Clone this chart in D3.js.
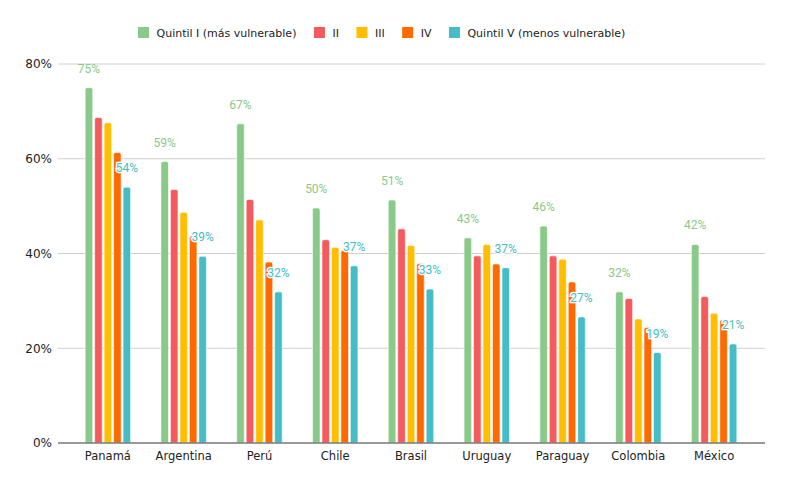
<!DOCTYPE html>
<html><head><meta charset="utf-8">
<script src="https://cdn.jsdelivr.net/npm/d3@7"></script>
<style>body{margin:0;background:#fff}svg{display:block}</style>
</head><body>
<svg id="c" width="790" height="489"></svg>
<script>
const countries = ["Panamá","Argentina","Perú","Chile","Brasil","Uruguay","Paraguay","Colombia","México"];
const seriesNames = ["Quintil I (más vulnerable)","II","III","IV","Quintil V (menos vulnerable)"];
const q1 = [75, 59.4, 67.4, 49.6, 51.3, 43.3, 45.8, 31.9, 41.9];
const q2 = [68.7, 53.5, 51.4, 42.9, 45.2, 39.5, 39.5, 30.5, 30.9];
const q3 = [67.6, 48.7, 47.1, 41.3, 41.7, 41.9, 38.8, 26.2, 27.4];
const q4 = [61.3, 43.7, 38.2, 40.7, 37.9, 37.8, 34.0, 24.4, 26.0];
const q5 = [54.0, 39.4, 31.9, 37.4, 32.5, 37.0, 26.6, 19.1, 20.9];
const yTicks = [0, 20, 40, 60, 80];
const colors = ["#89c98a","#f45b5e","#ffbf00","#ff6a00","#46bdc6"];
const seriesValues = [q1,q2,q3,q4,q5];

const svg = d3.select("#c");
const font = "DejaVu Sans, Verdana, sans-serif";
const plotL = 58, plotR = 765, plotT = 64, plotB = 443;

const y = d3.scaleLinear().domain([0,80]).range([plotB, plotT]);
const x0 = d3.scaleBand().domain(countries).range([70, 752]).paddingInner(0.4).paddingOuter(0.2);
const x1 = d3.scaleBand().domain(d3.range(5)).range([0, x0.bandwidth()]).paddingInner(0.2).paddingOuter(0);

// gridlines
svg.append("g").selectAll("line").data(yTicks.filter(t=>t>0)).join("line")
  .attr("x1", plotL).attr("x2", plotR)
  .attr("y1", d=>y(d)).attr("y2", d=>y(d))
  .attr("stroke","#d0d0d0").attr("stroke-width",1);

// y axis labels
const yAxis = d3.axisLeft(y).tickValues(yTicks).tickFormat(d=>d+"%").tickSize(0).tickPadding(6);
const ga = svg.append("g").attr("transform",`translate(${plotL},0)`).call(yAxis);
ga.select(".domain").remove();
ga.selectAll("text").attr("font-family",font).attr("font-size",12).attr("fill","#222");

// bars
function topRounded(x, yT, w, h, r){
  r = Math.min(r, h, w/2);
  return `M${x},${yT+h}V${yT+r}Q${x},${yT} ${x+r},${yT}H${x+w-r}Q${x+w},${yT} ${x+w},${yT+r}V${yT+h}Z`;
}
const data = [];
countries.forEach((c,i)=>seriesValues.forEach((s,j)=>data.push({c, j, v:s[i]})));
svg.append("g").selectAll("path").data(data).join("path")
  .attr("d", d=>{
    const xx = x0(d.c)+x1(d.j);
    return topRounded(xx, y(d.v), x1.bandwidth(), plotB - y(d.v), 2);
  })
  .attr("fill", d=>colors[d.j])
  .attr("stroke","#fff").attr("stroke-width",0.6);

// x axis line
svg.append("line").attr("x1",plotL).attr("x2",plotR).attr("y1",plotB).attr("y2",plotB)
  .attr("stroke","#777").attr("stroke-width",1.5);

// x labels
const xAxis = d3.axisBottom(x0).tickSize(0).tickPadding(9);
const gx = svg.append("g").attr("transform",`translate(0,${plotB})`).call(xAxis);
gx.select(".domain").remove();
gx.selectAll("text").attr("font-family",font).attr("font-size",11.5).attr("fill","#222");

// data labels
const lab = svg.append("g");
[0,4].forEach(j=>{
  lab.selectAll(null).data(countries).join("text")
    .attr("x", c=>x0(c)+x1(j)+x1.bandwidth()/2)
    .attr("y", (c,i)=>y(seriesValues[j][i]) - 15)
    .attr("text-anchor","middle")
    .attr("font-family","Roboto, sans-serif").attr("font-size",12)
    .attr("fill", colors[j])
    .attr("stroke", j===4 ? "#fff" : "none").attr("stroke-width",2.5).attr("paint-order","stroke")
    .text((c,i)=>Math.round(seriesValues[j][i])+"%");
});

// legend
const leg = svg.append("g").attr("transform","translate(0,32.5)");
let lx = 138;
seriesNames.forEach((n,i)=>{
  const g = leg.append("g").attr("transform",`translate(${lx},0)`);
  g.append("rect").attr("x",0).attr("y",-5.5).attr("width",11).attr("height",11).attr("fill",colors[i]);
  const t = g.append("text").attr("x",18.5).attr("y",4).attr("font-family",font).attr("font-size",11)
    .attr("fill","#222").text(n);
  lx += 18.5 + t.node().getComputedTextLength() + 17.5;
});
</script>
</body></html>
